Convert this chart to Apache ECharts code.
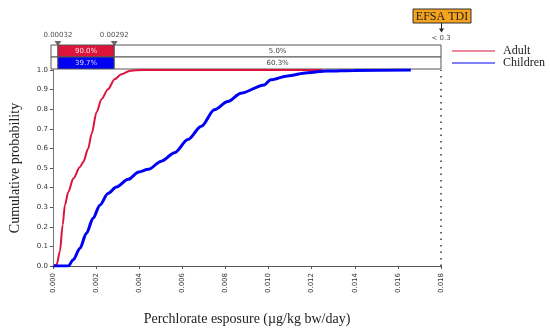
<!DOCTYPE html>
<html>
<head>
<meta charset="utf-8">
<script src="https://cdn.jsdelivr.net/npm/echarts@6/dist/echarts.min.js"></script>
<style>html,body{margin:0;padding:0;background:#fff}#c{width:550px;height:331px}</style>
</head>
<body>
<div id="c"></div>
<script>
// ---- data ----
const adultX = [0, 0.00017, 0.00032, 0.00045, 0.00055, 0.00071, 0.00094, 0.00125, 0.0014, 0.00163, 0.00179, 0.00202, 0.00225, 0.00255, 0.00286, 0.00317, 0.00355, 0.00386, 0.0045, 0.0125];
const adultP = [0, 0.007, 0.074, 0.21, 0.31, 0.378, 0.446, 0.505, 0.53, 0.598, 0.674, 0.784, 0.851, 0.902, 0.953, 0.978, 0.995, 0.999, 1.0, 1.0];
const childX = [0, 0.00071, 0.00094, 0.00125, 0.00155, 0.00186, 0.00217, 0.00255, 0.00294, 0.00349, 0.00398, 0.00442, 0.00503, 0.00564, 0.00626, 0.00688, 0.00749, 0.00811, 0.00872, 0.0098, 0.0101, 0.01088, 0.0118, 0.0127, 0.0140, 0.0166];
const childP = [0, 0, 0.032, 0.091, 0.167, 0.243, 0.31, 0.37, 0.403, 0.442, 0.48, 0.493, 0.535, 0.578, 0.645, 0.713, 0.797, 0.839, 0.882, 0.924, 0.95, 0.97, 0.986, 0.995, 0.998, 1.0];
const seriesNames = ['Adult', 'Children'];
const bandLimits = [0, 0.00032, 0.00292, 0.018];
const limitLabels = ['0.00032', '0.00292'];
const adultShares = ['', '90.0%', '5.0%'];
const childShares = ['', '39.7%', '60.3%'];
const tdiLabel = '< 0.3';
const tdiTitle = 'EFSA TDI';
const xTicks = { min: 0, max: 0.018, interval: 0.002 };
const yTicks = { min: 0, max: 1, interval: 0.1 };

const RED = '#DC143C', BLUE = '#0000F5';
const sans = 'DejaVu Sans', serif = 'Liberation Serif';

const chart = echarts.init(document.getElementById('c'), null, { renderer: 'canvas' });

// cells for band table: row 1 = Adult (top), row 0 = Children
const cells = [];
for (let i = 0; i < 3; i++) {
  cells.push([bandLimits[i], bandLimits[i + 1], 1, 2, adultShares[i], i === 1 ? RED : '#fff', i === 1 ? '#fbe3e8' : '#444']);
  cells.push([bandLimits[i], bandLimits[i + 1], 0, 1, childShares[i], i === 1 ? BLUE : '#fff', i === 1 ? '#dcdcff' : '#444']);
}

const option = {
  animation: false,
  backgroundColor: '#fff',
  grid: [
    { left: 51, right: 109, top: 70, bottom: 64 },
    { left: 51, right: 109, top: 45, height: 24 }
  ],
  xAxis: [
    {
      type: 'value', gridIndex: 0, min: xTicks.min, max: xTicks.max, interval: xTicks.interval,
      axisLine: { show: true, lineStyle: { color: '#555', width: 1 } },
      axisTick: { show: true, length: 3, lineStyle: { color: '#555' } },
      splitLine: { show: false },
      axisLabel: { rotate: 90, margin: 7, fontFamily: sans, fontSize: 7, color: '#333', formatter: v => v.toFixed(3) },
      name: 'Perchlorate esposure (µg/kg bw/day)', nameLocation: 'middle', nameGap: 46,
      nameTextStyle: { fontFamily: serif, fontSize: 14, color: '#222' }
    },
    { type: 'value', gridIndex: 1, min: xTicks.min, max: xTicks.max, show: false }
  ],
  yAxis: [
    {
      type: 'value', gridIndex: 0, min: yTicks.min, max: yTicks.max, interval: yTicks.interval,
      axisLine: { show: true, lineStyle: { color: '#555', width: 1 } },
      axisTick: { show: true, length: 3, lineStyle: { color: '#555' } },
      splitLine: { show: false },
      axisLabel: { margin: 5, fontFamily: sans, fontSize: 7, color: '#333', formatter: v => v.toFixed(1) },
      name: 'Cumulative probability', nameLocation: 'middle', nameRotate: 90, nameGap: 31,
      nameTextStyle: { fontFamily: serif, fontSize: 14, color: '#222' }
    },
    { type: 'value', gridIndex: 1, min: 0, max: 2, show: false }
  ],
  legend: {
    orient: 'vertical', left: 452, top: 45, padding: 0, itemWidth: 43, itemHeight: 12, itemGap: 0,
    icon: 'path://M0,5.5 L43,5.5 L43,6.5 L0,6.5 Z',
    textStyle: { fontFamily: serif, fontSize: 12, color: '#222', padding: [0, 0, 0, 3] },
    data: seriesNames
  },
  series: [
    {
      name: 'tdi-limit', type: 'line', xAxisIndex: 0, yAxisIndex: 0, clip: false, silent: true,
      data: [[bandLimits[3], 0], [bandLimits[3], 1]],
      showSymbol: false, symbol: 'none',
      lineStyle: { color: '#333', width: 1.5, type: [1.5, 5] }
    },
    {
      name: seriesNames[0], type: 'line', xAxisIndex: 0, yAxisIndex: 0, clip: false,
      data: adultX.map((x, i) => [x, adultP[i]]),
      showSymbol: false, symbol: 'none', smooth: 0.3, smoothMonotone: 'x',
      lineStyle: { color: RED, width: 2 }, itemStyle: { color: RED },
      markLine: {
        silent: true, symbol: 'none', label: { show: false },
        data: [
          { xAxis: bandLimits[1], lineStyle: { color: '#777', width: 1, type: 'solid' } },
          { xAxis: bandLimits[2], lineStyle: { color: '#777', width: 1, type: 'solid' } }
        ]
      }
    },
    {
      name: seriesNames[1], type: 'line', xAxisIndex: 0, yAxisIndex: 0,
      data: childX.map((x, i) => [x, childP[i]]),
      showSymbol: false, symbol: 'none', smooth: 0.3, smoothMonotone: 'x',
      lineStyle: { color: BLUE, width: 3 }, itemStyle: { color: BLUE }
    },
    {
      type: 'custom', xAxisIndex: 1, yAxisIndex: 1, silent: true,
      data: cells,
      renderItem: function (params, api) {
        const p0 = api.coord([api.value(0), api.value(3)]);
        const p1 = api.coord([api.value(1), api.value(2)]);
        const d = cells[params.dataIndex];
        return {
          type: 'group',
          children: [
            { type: 'rect', shape: { x: p0[0], y: p0[1], width: p1[0] - p0[0], height: p1[1] - p0[1] },
              style: { fill: d[5], stroke: '#555', lineWidth: 1 } },
            { type: 'text', style: { text: d[4], x: (p0[0] + p1[0]) / 2, y: (p0[1] + p1[1]) / 2 + 0.5,
              align: 'center', verticalAlign: 'middle', fill: d[6], font: '7px "DejaVu Sans"' } }
          ]
        };
      }
    },
    {
      type: 'scatter', xAxisIndex: 1, yAxisIndex: 1, silent: true,
      symbol: 'triangle', symbolRotate: 180, symbolSize: [7, 5], symbolOffset: [0, -1.5],
      itemStyle: { color: '#444' },
      label: { show: true, position: 'top', distance: 2, fontFamily: sans, fontSize: 7, color: '#222',
        formatter: p => limitLabels[p.dataIndex] },
      data: [[bandLimits[1], 2], [bandLimits[2], 2]]
    },
    {
      type: 'scatter', xAxisIndex: 1, yAxisIndex: 1, silent: true,
      symbol: 'circle', symbolSize: 1, itemStyle: { color: 'rgba(0,0,0,0)' },
      label: { show: true, position: 'top', distance: 3, fontFamily: sans, fontSize: 7, color: '#222',
        formatter: () => tdiLabel },
      data: [[bandLimits[3], 2]]
    }
  ]
};
chart.setOption(option);

// EFSA TDI annotation anchored to the x scale
const ax = chart.convertToPixel({ xAxisIndex: 1, yAxisIndex: 1 }, [bandLimits[3], 2]);
const cx = Math.round(ax[0]) + 0.5;
chart.setOption({
  graphic: [
    { type: 'rect', shape: { x: cx - 28.5, y: 9, width: 58, height: 14 },
      style: { fill: '#F5A21C', stroke: '#333', lineWidth: 1 } },
    { type: 'text', style: { text: tdiTitle, x: cx + 0.5, y: 16.5, align: 'center', verticalAlign: 'middle',
      fill: '#222', font: '12px "Liberation Serif"' } },
    { type: 'line', shape: { x1: cx, y1: 23, x2: cx, y2: 31 }, style: { stroke: '#222', lineWidth: 1 } },
    { type: 'polygon', shape: { points: [[cx - 2.5, 28.5], [cx + 2.5, 28.5], [cx, 32.5]] }, style: { fill: '#222' } }
  ]
});
</script>
</body>
</html>
